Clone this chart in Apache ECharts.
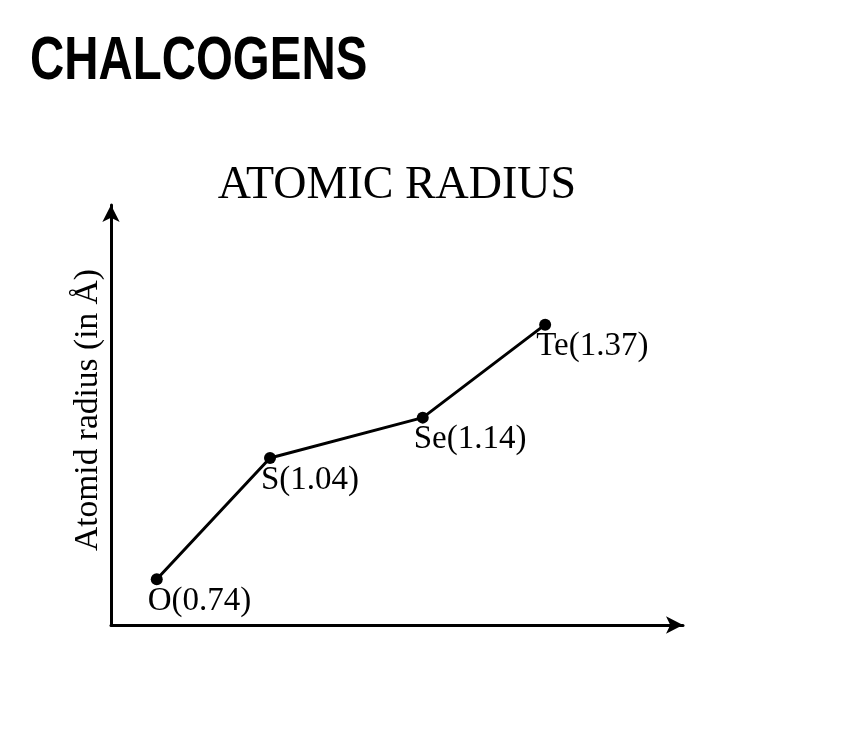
<!DOCTYPE html>
<html>
<head>
<meta charset="utf-8">
<script src="https://cdn.jsdelivr.net/npm/echarts@6/dist/echarts.min.js"></script>
<style>html,body{margin:0;padding:0;background:#fff}#c{width:845px;height:741px}</style>
</head>
<body>
<div id="c"></div>
<script>
const elements = ['O', 'S', 'Se', 'Te'];
const radii = [0.74, 1.04, 1.14, 1.37];
const xPositions = [0.80, 2.78, 5.45, 7.59];
const mainTitle = 'CHALCOGENS';
const chartTitle = 'ATOMIC RADIUS';
const yAxisName = 'Atomid radius (in Å)';

const seriesData = elements.map((el, i) => ({
  value: [xPositions[i], radii[i]],
  name: el
}));

const chart = echarts.init(document.getElementById('c'));
const serif = '"Liberation Serif", "Times New Roman", serif';
chart.setOption({
  backgroundColor: '#fff',
  animation: false,
  title: [
    {
      text: chartTitle, left: 397, textAlign: 'center', top: 163, padding: 0,
      textStyle: { fontFamily: serif, fontWeight: 'normal', fontSize: 46, color: '#000' }
    }
  ],
  graphic: [{
    type: 'text', x: 30, y: 31, scaleX: 0.765,
    style: {
      text: mainTitle,
      font: 'bold 62px "Liberation Sans", Arial, sans-serif',
      fill: '#000', textAlign: 'left', textVerticalAlign: 'top'
    }
  }],
  grid: { left: 111, top: 205, right: 162, bottom: 116 },
  xAxis: {
    type: 'value', min: 0, max: 10,
    axisLine: { show: true, lineStyle: { color: '#000', width: 3 }, symbol: ['none', 'arrow'], symbolSize: [13, 17] },
    axisTick: { show: false }, axisLabel: { show: false }, splitLine: { show: false }
  },
  yAxis: {
    type: 'value', min: 0.627, max: 1.666,
    name: yAxisName, nameLocation: 'middle', nameRotate: 90, nameGap: 6,
    nameTextStyle: { fontFamily: serif, fontSize: 33.5, color: '#000', padding: [0, 0, 0, 10] },
    axisLine: { show: true, lineStyle: { color: '#000', width: 3 }, symbol: ['none', 'arrow'], symbolSize: [13, 17] },
    axisTick: { show: false }, axisLabel: { show: false }, splitLine: { show: false }
  },
  series: [{
    type: 'line',
    data: seriesData,
    symbol: 'circle', symbolSize: 12,
    lineStyle: { color: '#000', width: 3 },
    itemStyle: { color: '#000' },
    label: {
      show: true,
      position: [-3, 28],
      align: 'left', verticalAlign: 'middle',
      fontFamily: serif, fontSize: 33, color: '#000',
      formatter: p => p.name + '(' + p.value[1].toFixed(2) + ')'
    }
  }]
});
</script>
</body>
</html>
